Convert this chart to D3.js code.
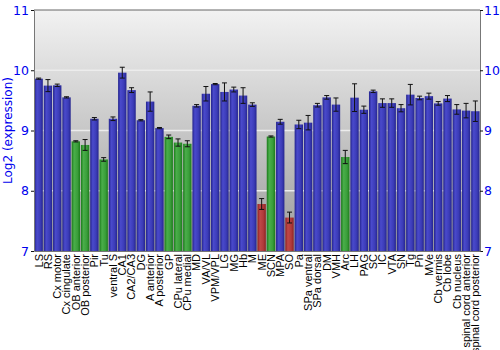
<!DOCTYPE html>
<html>
<head>
<meta charset="utf-8">
<script src="https://cdn.jsdelivr.net/npm/d3@7"></script>
<style>
  html, body { margin: 0; padding: 0; background: #fff; }
  svg { display: block; font-family: "Liberation Sans", Arial, sans-serif; }
</style>
</head>
<body>
<div id="chart"></div>
<script>
// Brain regions, in plotting order
const regions = ["LS", "RS", "Cx motor", "Cx cingulate", "OB anterior", "OB posterior", "Pir", "Tu",
  "ventral S", "CA1", "CA2/CA3", "DG", "A anterior", "A posterior", "GP", "CPu lateral", "CPu medial",
  "MD", "VA/VL", "VPM/VPL", "LG", "MG", "Hb", "M", "ME", "SCN", "MPA", "SO", "Pa", "SPa ventral",
  "SPa dorsal", "DM", "VMH", "Arc", "LH", "PAG", "SC", "IC", "VTA", "SN", "Tg", "Pn", "MVe",
  "Cb vermis", "Cb lobe", "Cb nucleus", "spinal cord anterior", "spinal cord posterior"];

// Mean log2 expression per region
const expression = [9.86, 9.745, 9.75, 9.55, 8.82, 8.76, 9.195, 8.52,
  9.195, 9.96, 9.67, 9.17, 9.48, 9.04, 8.895, 8.80, 8.78,
  9.41, 9.61, 9.77, 9.64, 9.68, 9.58, 9.43, 7.78, 8.90, 9.145, 7.555, 9.10, 9.13,
  9.42, 9.55, 9.43, 8.56, 9.545, 9.345, 9.65, 9.455, 9.455, 9.37, 9.595, 9.54, 9.57,
  9.45, 9.53, 9.35, 9.33, 9.32];

// Error half-widths
const errors = [0.01, 0.10, 0.02, 0.01, 0.01, 0.09, 0.02, 0.03,
  0.03, 0.09, 0.04, 0.01, 0.16, 0.01, 0.03, 0.06, 0.05,
  0.02, 0.12, 0.01, 0.15, 0.04, 0.13, 0.03, 0.09, 0.01, 0.04, 0.09, 0.07, 0.12,
  0.03, 0.03, 0.11, 0.11, 0.23, 0.06, 0.02, 0.07, 0.07, 0.06, 0.17, 0.03, 0.05,
  0.03, 0.05, 0.08, 0.12, 0.17];

// Colour group per region: b = blue, g = green, r = red
const groups = ["b", "b", "b", "b", "g", "g", "b", "g",
  "b", "b", "b", "b", "b", "b", "g", "g", "g",
  "b", "b", "b", "b", "b", "b", "b", "r", "g", "b", "r", "b", "b",
  "b", "b", "b", "g", "b", "b", "b", "b", "b", "b", "b", "b", "b",
  "b", "b", "b", "b", "b"];

const yTicks = [7, 8, 9, 10, 11];

const W = 500, H = 350;
const margin = { left: 34, right: 20, top: 10, bottom: 99 };
const innerW = W - margin.left - margin.right;
const innerH = H - margin.top - margin.bottom;

const svg = d3.select("#chart").append("svg").attr("width", W).attr("height", H);
const defs = svg.append("defs");

// Plot background: light grey at the top fading to a darker grey
const bg = defs.append("linearGradient").attr("id", "bg").attr("x1", 0).attr("y1", 0).attr("x2", 0).attr("y2", 1);
bg.append("stop").attr("offset", "0%").attr("stop-color", "#f2f2f2");
bg.append("stop").attr("offset", "100%").attr("stop-color", "#9c9c9c");

// Bar shading: dark edges, lighter band left of centre
const palettes = {
  b: ["#23238c", "#4a4acc", "#3c3cb8", "#25258e"],
  g: ["#1a7a1a", "#4aae4a", "#3a9e3a", "#1c7c1c"],
  r: ["#8c2020", "#c04848", "#b03a3a", "#8e2222"]
};
Object.entries(palettes).forEach(([k, c]) => {
  const g = defs.append("linearGradient").attr("id", "bar-" + k).attr("x1", 0).attr("y1", 0).attr("x2", 1).attr("y2", 0);
  g.append("stop").attr("offset", "0%").attr("stop-color", c[0]);
  g.append("stop").attr("offset", "30%").attr("stop-color", c[1]);
  g.append("stop").attr("offset", "70%").attr("stop-color", c[2]);
  g.append("stop").attr("offset", "100%").attr("stop-color", c[3]);
});

const x = d3.scaleBand().domain(regions).range([0, innerW]).paddingInner(0.1).paddingOuter(0.05);
const y = d3.scaleLinear().domain([7, 11]).range([innerH, 0]);

const g = svg.append("g").attr("transform", `translate(${margin.left},${margin.top})`);

g.append("rect").attr("width", innerW).attr("height", innerH).attr("fill", "url(#bg)");

// Horizontal grid lines
g.selectAll(".grid").data(yTicks.filter(t => t > 7 && t < 11)).enter().append("line")
  .attr("x1", 0).attr("x2", innerW)
  .attr("y1", d => y(d)).attr("y2", d => y(d))
  .attr("stroke", "#ececec").attr("stroke-width", 1.5);

const data = regions.map((r, i) => ({ r, v: expression[i], e: errors[i], c: groups[i] }));

// Bars
g.selectAll(".bar").data(data).enter().append("rect")
  .attr("x", d => x(d.r))
  .attr("width", x.bandwidth())
  .attr("y", d => y(d.v))
  .attr("height", d => y(7) - y(d.v))
  .attr("fill", d => `url(#bar-${d.c})`);

// Error bars
const eb = g.selectAll(".err").data(data).enter().append("g")
  .attr("transform", d => `translate(${x(d.r) + x.bandwidth() / 2},0)`);
eb.append("line")
  .attr("y1", d => y(d.v - d.e)).attr("y2", d => y(d.v + d.e))
  .attr("stroke", "#111").attr("stroke-width", 1);
eb.append("line").attr("x1", -2.5).attr("x2", 2.5)
  .attr("y1", d => y(d.v + d.e)).attr("y2", d => y(d.v + d.e))
  .attr("stroke", "#111").attr("stroke-width", 1);
eb.append("line").attr("x1", -2.5).attr("x2", 2.5)
  .attr("y1", d => y(d.v - d.e)).attr("y2", d => y(d.v - d.e))
  .attr("stroke", "#111").attr("stroke-width", 1);

// Frame top line
g.append("line").attr("x1", 0).attr("x2", innerW).attr("y1", 0).attr("y2", 0)
  .attr("stroke", "#666").attr("stroke-width", 1);

// Left and right value axes
const styleAxis = sel => {
  sel.select(".domain").attr("stroke", "#777");
  sel.selectAll(".tick line").attr("stroke", "#111");
  sel.selectAll(".tick text").attr("fill", "#0000ee").attr("font-size", 12.5)
    .attr("font-family", "'DejaVu Sans', sans-serif");
};
g.append("g").call(d3.axisLeft(y).tickValues(yTicks).tickFormat(d3.format("d"))
    .tickSize(3).tickPadding(2).tickSizeOuter(0))
  .call(styleAxis);
g.append("g").attr("transform", `translate(${innerW},0)`)
  .call(d3.axisRight(y).tickValues(yTicks).tickFormat(d3.format("d"))
    .tickSize(3).tickPadding(1).tickSizeOuter(0))
  .call(styleAxis);

// Region labels, rotated
const xa = g.append("g").attr("transform", `translate(0,${innerH})`)
  .call(d3.axisBottom(x).tickSize(0));
xa.select(".domain").attr("stroke", "#777");
xa.selectAll(".tick text")
  .attr("transform", "rotate(-90)")
  .attr("x", -3).attr("y", 0).attr("dy", "0.35em")
  .attr("text-anchor", "end")
  .attr("fill", "#000").attr("font-size", 11)
  .attr("font-family", "'Liberation Sans', Arial, sans-serif");

// Axis title
svg.append("text")
  .attr("transform", `translate(12,${margin.top + innerH / 2}) rotate(-90)`)
  .attr("text-anchor", "middle")
  .attr("fill", "#0000ee").attr("font-size", 12)
  .attr("font-family", "'DejaVu Sans', sans-serif")
  .text("Log2 (expression)");
</script>
</body>
</html>
